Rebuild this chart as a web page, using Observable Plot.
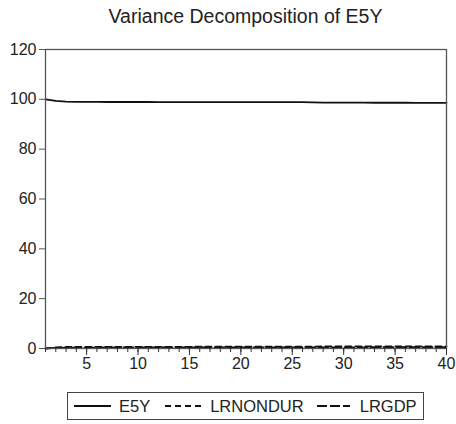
<!DOCTYPE html>
<html><head><meta charset="utf-8">
<script src="https://cdn.jsdelivr.net/npm/d3@7"></script>
<script src="https://cdn.jsdelivr.net/npm/@observablehq/plot@0.6"></script>
<style>
body{margin:0;background:#fff;font-family:"Liberation Sans",Arial,sans-serif;}
#wrap{position:relative;width:456px;height:424px;overflow:hidden;}
#title{position:absolute;left:45px;width:401px;top:5px;text-align:center;font-size:19.5px;color:#222;white-space:nowrap;}
#chart{position:absolute;left:0;top:34px;}
#legend{position:absolute;left:67px;top:392px;width:355px;height:26px;border:1px solid #444;display:flex;align-items:center;font-size:16.5px;color:#222;box-sizing:content-box;}
#legend .item{display:flex;align-items:center;}
#legend svg{display:block;}
</style>
</head><body>
<div id="wrap">
  <div id="title">Variance Decomposition of E5Y</div>
  <div id="chart"></div>
  <div id="legend"></div>
</div>
<script>
const periods = [1,2,3,4,5,6,7,8,9,10,11,12,13,14,15,16,17,18,19,20,21,22,23,24,25,26,27,28,29,30,31,32,33,34,35,36,37,38,39,40];
const e5y = [100.0,99.35,99.05,98.98,98.95,98.94,98.93,98.93,98.92,98.92,98.92,98.91,98.91,98.91,98.90,98.90,98.90,98.89,98.89,98.89,98.88,98.88,98.88,98.87,98.87,98.86,98.80,98.70,98.66,98.65,98.64,98.64,98.63,98.63,98.62,98.62,98.61,98.61,98.60,98.60];
const lrnondur = [0.0,0.42,0.6,0.64,0.66,0.67,0.67,0.68,0.68,0.68,0.68,0.69,0.69,0.69,0.69,0.70,0.70,0.70,0.70,0.70,0.71,0.71,0.71,0.71,0.71,0.72,0.76,0.83,0.86,0.86,0.87,0.87,0.87,0.87,0.88,0.88,0.88,0.88,0.89,0.89];
const lrgdp = [0.0,0.23,0.35,0.38,0.39,0.39,0.40,0.39,0.40,0.40,0.40,0.40,0.40,0.40,0.41,0.40,0.40,0.41,0.41,0.41,0.41,0.41,0.41,0.42,0.42,0.42,0.44,0.47,0.48,0.49,0.49,0.49,0.50,0.50,0.50,0.50,0.51,0.51,0.51,0.51];
const seriesNames = ["E5Y","LRNONDUR","LRGDP"];
const seriesValues = [e5y, lrnondur, lrgdp];
const dashes = [null, "6,4", "10,3"];
const xTicks = [5,10,15,20,25,30,35,40];
const yTicks = [0,20,40,60,80,100,120];

const rows = [];
seriesNames.forEach((name, si) => {
  periods.forEach((p, i) => rows.push({series: name, period: p, value: seriesValues[si][i]}));
});

const marks = [];
seriesNames.forEach((name, si) => {
  marks.push(Plot.lineY(rows.filter(r => r.series === name), {
    x: "period", y: "value", stroke: "#111", strokeWidth: 1.8,
    strokeDasharray: dashes[si] || undefined
  }));
});
marks.push(Plot.frame({stroke: "#555", strokeWidth: 1.3}));
marks.push(Plot.axisY({ticks: yTicks, tickSize: 6, tickPadding: 3, fontSize: 16, stroke: "#555", fill: "#222"}));
marks.push(Plot.axisX({ticks: periods, tickSize: 4, text: null, stroke: "#333"}));
marks.push(Plot.axisX({ticks: xTicks, tickSize: 7, tickPadding: 2, fontSize: 16, stroke: "#333", fill: "#222"}));

const chart = Plot.plot({
  width: 456, height: 340,
  marginTop: 15, marginBottom: 26, marginLeft: 45, marginRight: 10,
  style: {fontFamily: '"Liberation Sans", Arial, sans-serif', background: "#fff"},
  x: {domain: [1, 40], label: null},
  y: {domain: [0, 120], label: null},
  marks
});
document.getElementById("chart").appendChild(chart);

// legend
const legend = document.getElementById("legend");
const legendWidths = [[6, 37, 8], [15, 37, 8], [13, 33, 10]];
seriesNames.forEach((name, si) => {
  const item = document.createElement("div");
  item.className = "item";
  const [gap, len, pad] = legendWidths[si];
  item.style.marginLeft = gap + "px";
  const svg = d3.create("svg").attr("width", len).attr("height", 10);
  svg.append("line").attr("x1", 0).attr("x2", len).attr("y1", 5).attr("y2", 5)
    .attr("stroke", "#111").attr("stroke-width", 1.8)
    .attr("stroke-dasharray", dashes[si]);
  item.appendChild(svg.node());
  const label = document.createElement("span");
  label.style.marginLeft = pad + "px";
  label.textContent = name;
  item.appendChild(label);
  legend.appendChild(item);
});
</script>
</body></html>
